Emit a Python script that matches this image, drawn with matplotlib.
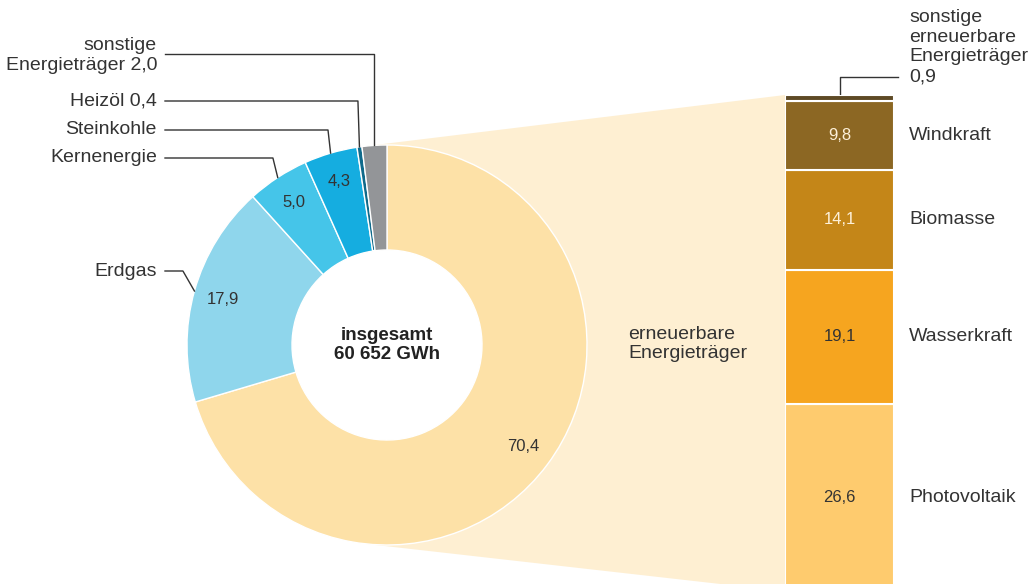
import numpy as np
import matplotlib
matplotlib.use("Agg")
import matplotlib.pyplot as plt
from matplotlib.patches import Polygon, Circle

plt.rcParams['font.family'] = ['Liberation Sans', 'DejaVu Sans']

# ---------------- data ----------------
donut_names = ['erneuerbare\nEnergieträger', 'Erdgas', 'Kernenergie', 'Steinkohle', 'Heizöl',
               'sonstige\nEnergieträger']
donut_values = [70.4, 17.9, 5.0, 4.3, 0.4, 2.0]
donut_colors = ['#fde1a7', '#8fd6ec', '#45c5e9', '#15ade0', '#0f6a8b', '#939598']

bar_names = ['Photovoltaik', 'Wasserkraft', 'Biomasse', 'Windkraft',
             'sonstige\nerneuerbare\nEnergieträger']
bar_values = [26.6, 19.1, 14.1, 9.8, 0.9]
bar_colors = ['#fecb6e', '#f6a51f', '#c48618', '#8c6723', '#5e4a25']
bar_text_colors = ['#333333', '#333333', '#fdf0d8', '#fdf0d8', '#333333']

center_text = 'insgesamt\n60 652 GWh'

TXT = '#333333'
FS = 14
FS_VAL = 12
LS = 1.22


def fmt(v):
    return f"{v:.1f}".replace('.', ',')


W, H = 1028, 584
fig = plt.figure(figsize=(W / 100, H / 100), dpi=100)
ax = fig.add_axes([0, 0, 1, 1])


def py(y):
    return H - y


# donut geometry (layout)
cx, cy = 387, py(345)
R = 200
RING = 105

wedges, _, autotexts = ax.pie(
    donut_values, colors=donut_colors, startangle=90, counterclock=False,
    center=(cx, cy), radius=R,
    wedgeprops=dict(width=RING, edgecolor='white', linewidth=1),
    autopct=lambda p: fmt(p) if p > 3 else '', pctdistance=170 / R,
    textprops=dict(color=TXT, fontsize=FS_VAL))
for w in wedges:
    w.set_zorder(3)
for t in autotexts:
    t.set_zorder(5)
ax.add_patch(Circle((cx, cy), R - RING + 0.5, color='white', zorder=2))

ax.set_xlim(0, W)
ax.set_ylim(0, H)
ax.set_aspect('equal')
ax.axis('off')

ax.text(cx, cy, center_text, ha='center', va='center', fontsize=13.5,
        fontweight='bold', color='#222222', linespacing=1.15, zorder=6)

# ---------------- bar of renewables ----------------
bar_left_px, bar_w_px = 785, 109
bar_top_px = 95
px_per_unit = 7.04
bar_h_px = sum(bar_values) * px_per_unit
bax = fig.add_axes([bar_left_px / W, (H - bar_top_px - bar_h_px) / H,
                    bar_w_px / W, bar_h_px / H])
bottoms = np.concatenate([[0], np.cumsum(bar_values)[:-1]])
bax.bar(0, bar_values, bottom=bottoms, width=1, color=bar_colors,
        edgecolor='white', linewidth=1.5)
bax.set_xlim(-0.5, 0.5)
bax.set_ylim(0, sum(bar_values))
bax.axis('off')

for v, b, name, tc in zip(bar_values, bottoms, bar_names, bar_text_colors):
    if v < 3:
        continue
    bax.text(0, b + v / 2, fmt(v), ha='center', va='center', color=tc, fontsize=FS_VAL)
    bax.text((909 - bar_left_px) / bar_w_px, b + v / 2, name, ha='left', va='center',
             color=TXT, fontsize=FS, transform=bax.get_yaxis_transform(), clip_on=False)

# small renewable label with leader
fig.canvas.draw()
to_ax = ax.transData.inverted()
top_disp = bax.transData.transform((0, sum(bar_values)))
tx, ty = to_ax.transform(top_disp)
ax.plot([tx, tx, 898], [ty, py(77), py(77)], color=TXT, lw=1, zorder=4)
ax.text(909, py(47), bar_names[-1] + '\n' + fmt(bar_values[-1]), ha='left', va='center',
        color=TXT, fontsize=FS, linespacing=LS)

# ---------------- connector polygon ----------------
bl_disp = bax.transData.transform((-0.5, 0))
tl_disp = bax.transData.transform((-0.5, sum(bar_values)))
P_bot = to_ax.transform(bl_disp)
P_top = to_ax.transform(tl_disp)


def tangent(P, upper):
    d = np.array(P) - np.array([cx, cy])
    dist = np.hypot(*d)
    base = np.arctan2(d[1], d[0])
    off = np.arccos(R / dist)
    a = base + off if upper else base - off
    return (cx + R * np.cos(a), cy + R * np.sin(a))


T_top = tangent(P_top, True)
T_bot = tangent(P_bot, False)
ax.add_patch(Polygon([T_top, P_top, P_bot, T_bot, (cx, cy)], closed=True,
                     facecolor='#feefd2', edgecolor='none', zorder=1))

ax.text(628, py(344), donut_names[0], ha='left', va='center', color=TXT,
        fontsize=FS, linespacing=LS)

# ---------------- left labels with leaders ----------------
left_label_y = [271, 158, 130, 101, 55.5]      # px positions for Erdgas..sonstige
elbow_gap = [11.5, 4.8, 2.6, 1.5, 0.0]
cum = np.cumsum([0] + donut_values)
for i, (ly, gap) in enumerate(zip(left_label_y, elbow_gap), start=1):
    v = donut_values[i]
    theta = np.deg2rad((cum[i] + v / 2) / 100 * 360)
    ex = cx + R * np.sin(theta)
    ey = cy + R * np.cos(theta)
    name = donut_names[i]
    label = name if v > 3 else f"{name} {fmt(v)}"
    line_y = py(54) if '\n' in name else py(ly)
    ax.plot([165, ex - gap, ex], [line_y, line_y, ey], color=TXT, lw=1, zorder=4)
    ax.text(157, py(ly), label, ha='right', va='center', color=TXT, fontsize=FS,
            linespacing=LS)

fig.savefig('out.png', dpi=100)
